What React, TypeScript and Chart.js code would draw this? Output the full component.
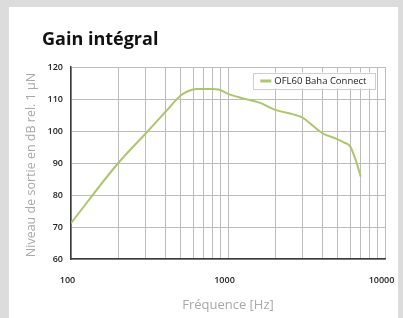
import React, { useEffect, useRef } from "react";
import { Chart, registerables } from "chart.js";

Chart.register(...registerables);

const TITLE = "Gain intégral";
const SERIES_NAME = "OFL60 Baha Connect";
const Y_TITLE = "Niveau de sortie en dB rel. 1 µN";
const X_TITLE = "Fréquence [Hz]";

const FREQS = [100, 200, 300, 400, 500, 560, 630, 800, 870, 1000, 1250, 1600, 2000, 2600, 2950, 3500, 4000, 5000, 5500, 6000, 6500, 7000];
const GAIN = [71.2, 90, 99.3, 106, 111.1, 112.5, 113.1, 113.1, 113, 111.6, 110.2, 108.8, 106.6, 105.2, 104.3, 101.5, 99.3, 97.4, 96.4, 95.2, 91, 85.8];

const GRID_FREQS = [100, 200, 300, 400, 500, 600, 700, 800, 900, 1000, 2000, 3000, 4000, 5000, 6000, 7000, 8000, 9000, 10000];
const X_LABELS = [100, 1000, 10000];
const Y_TICKS = [60, 70, 80, 90, 100, 110, 120];

const GREEN = "#aec56f";
const FONT = "'Open Sans', 'Noto Sans', sans-serif";

const overlayPlugin = {
  id: "overlay",
  afterDraw(chart: any) {
    const { ctx, chartArea } = chart;
    ctx.save();
    // title
    ctx.fillStyle = "#111";
    ctx.font = `bold 18px ${FONT}`;
    ctx.textBaseline = "alphabetic";
    ctx.textAlign = "left";
    ctx.fillText(TITLE, 42, 45);
    // y axis title
    ctx.save();
    ctx.translate(31.5, (chartArea.top + chartArea.bottom) / 2 + 2);
    ctx.rotate(-Math.PI / 2);
    ctx.font = `12.5px ${FONT}`;
    ctx.fillStyle = "#a8a8a8";
    ctx.textAlign = "center";
    ctx.textBaseline = "middle";
    ctx.fillText(Y_TITLE, 0, 0);
    ctx.restore();
    // legend
    ctx.font = `9.5px ${FONT}`;
    const tw = ctx.measureText(SERIES_NAME).width;
    const boxRight = chartArea.right - 9.5;
    const boxTop = chartArea.top + 5.5;
    const boxH = 16;
    const boxW = 7 + 11 + 3 + tw + 9;
    const boxLeft = boxRight - boxW;
    ctx.fillStyle = "#fff";
    ctx.fillRect(boxLeft, boxTop, boxW, boxH);
    ctx.strokeStyle = "#cfcfcf";
    ctx.lineWidth = 1;
    ctx.strokeRect(Math.round(boxLeft) + 0.5, Math.round(boxTop) + 0.5, Math.round(boxW), boxH);
    ctx.strokeStyle = GREEN;
    ctx.lineWidth = 3;
    const ly = boxTop + boxH / 2 + 0.5;
    ctx.beginPath();
    ctx.moveTo(boxLeft + 7, ly);
    ctx.lineTo(boxLeft + 18, ly);
    ctx.stroke();
    ctx.fillStyle = "#222";
    ctx.textAlign = "left";
    ctx.textBaseline = "middle";
    ctx.fillText(SERIES_NAME, boxLeft + 21, boxTop + boxH / 2 + 0.5);
    ctx.restore();
  },
};

export default function App() {
  const ref = useRef<HTMLCanvasElement | null>(null);
  useEffect(() => {
    if (!ref.current) return;
    const chart = new Chart(ref.current, {
      type: "line",
      data: {
        datasets: [
          {
            label: SERIES_NAME,
            data: FREQS.map((f, i) => ({ x: f, y: GAIN[i] })),
            borderColor: GREEN,
            borderWidth: 2,
            pointRadius: 0,
            fill: false,
            cubicInterpolationMode: "monotone",
          },
        ],
      },
      options: {
        animation: false,
        responsive: false,
        maintainAspectRatio: false,
        layout: { padding: { left: 0, top: 67, right: 18, bottom: 0 } },
        plugins: {
          legend: { display: false },
          title: { display: false },
          tooltip: { enabled: false },
        },
        scales: {
          x: {
            type: "logarithmic",
            min: 100,
            max: 10000,
            afterBuildTicks: (scale: any) => {
              scale.ticks = GRID_FREQS.map((v) => ({ value: v }));
            },
            afterFit: (scale: any) => {
              scale.height = 59;
              scale.paddingLeft = 0;
              scale.paddingRight = 0;
            },
            grid: { color: "#bcbcbc", lineWidth: 1, drawTicks: false },
            border: { display: true, color: "#3a3a3a", width: 1.5 },
            ticks: {
              autoSkip: false,
              maxRotation: 0,
              padding: 16,
              labelOffset: -3.5,
              color: "#222",
              font: { family: FONT, size: 9, weight: "600" },
              callback: (v: any) => (X_LABELS.includes(Number(v)) ? String(v) : ""),
            },
            title: {
              display: true,
              text: X_TITLE,
              color: "#a8a8a8",
              font: { family: FONT, size: 13 },
              padding: { top: 0, bottom: 5 },
            },
          },
          y: {
            type: "linear",
            min: 60,
            max: 120,
            afterBuildTicks: (scale: any) => {
              scale.ticks = Y_TICKS.map((v) => ({ value: v }));
            },
            afterFit: (scale: any) => {
              scale.width = 71;
              scale.paddingTop = 0;
              scale.paddingBottom = 0;
            },
            grid: { color: "#bcbcbc", lineWidth: 1, drawTicks: false },
            border: { display: true, color: "#3a3a3a", width: 1.5 },
            ticks: {
              padding: 8,
              color: "#222",
              font: { family: FONT, size: 9, weight: "600" },
            },
            title: { display: false },
          },
        },
      },
      plugins: [overlayPlugin],
    } as any);
    return () => chart.destroy();
  }, []);

  return (
    <div style={{ position: "fixed", left: 0, top: 0, width: 403, height: 318, background: "#dcdcdc", overflow: "hidden" }}>
      <div style={{ position: "absolute", left: 9, top: 7, width: 389, height: 320, background: "#fff" }} />
      <canvas ref={ref} width={403} height={318} style={{ position: "absolute", left: 0, top: 0, width: 403, height: 318 }} />
    </div>
  );
}
